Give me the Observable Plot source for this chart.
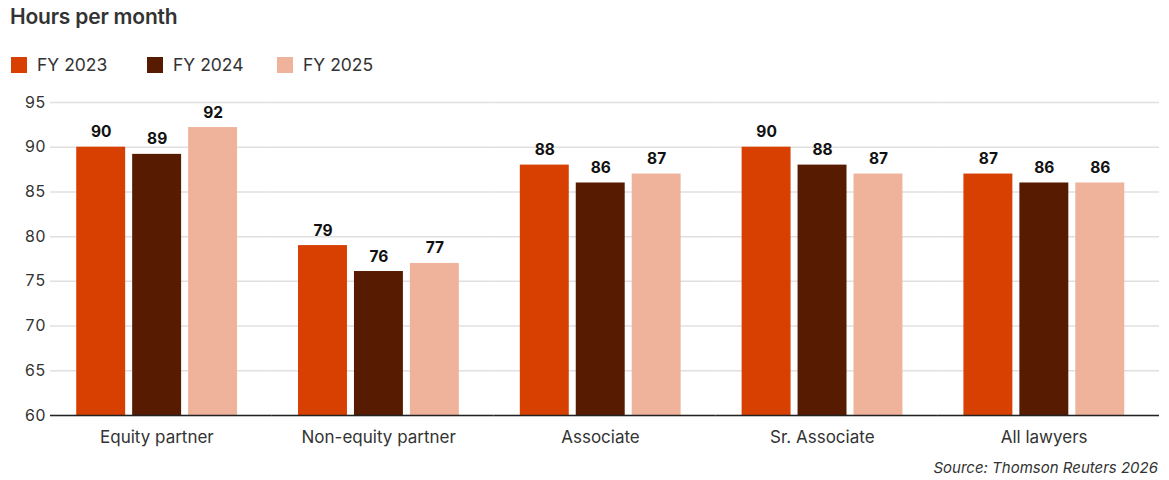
<!DOCTYPE html>
<html>
<head>
<meta charset="utf-8">
<script src="https://cdn.jsdelivr.net/npm/d3@7"></script>
<script src="https://cdn.jsdelivr.net/npm/@observablehq/plot@0.6"></script>
<style>
  body { margin: 0; background: #fff; font-family: Inter, "Noto Sans", sans-serif; color: #333; }
  #wrap { position: relative; width: 1169px; height: 480px; }
  #title { position: absolute; left: 10px; top: 4px; font-size: 21px; font-weight: 600; color: #333; letter-spacing: -0.2px; }
  #legend { position: absolute; left: 11px; top: 54px; display: flex; }
  .item { display: flex; align-items: center; font-size: 17.5px; color: #333; }
  .sw { width: 16px; height: 16px; margin-right: 10px; }
  #chart { position: absolute; left: 0; top: 88px; }
  #source { position: absolute; right: 11px; top: 458px; font-size: 15px; font-style: italic; color: #333; }
</style>
</head>
<body>
<div id="wrap">
  <div id="title">Hours per month</div>
  <div id="legend"></div>
  <div id="chart"></div>
  <div id="source">Source: Thomson Reuters 2026</div>
</div>
<script>
const categories = ["Equity partner", "Non-equity partner", "Associate", "Sr. Associate", "All lawyers"];
const years = ["FY 2023", "FY 2024", "FY 2025"];
const fy2023 = [90, 79, 88, 90, 87];
const fy2024 = [89.2, 76.1, 86, 88, 86];
const fy2025 = [92.2, 77, 87, 87, 86];
const colors = ["#d74000", "#561b00", "#efb39b"];
const yTicks = [60, 65, 70, 75, 80, 85, 90, 95];

const series = [fy2023, fy2024, fy2025];
const data = [];
categories.forEach((c, i) => {
  years.forEach((y, j) => data.push({category: c, year: y, value: series[j][i]}));
});

// legend
const legend = document.getElementById("legend");
const legendWidths = [136, 130, 120];
years.forEach((y, j) => {
  const it = document.createElement("div");
  it.className = "item";
  it.style.width = legendWidths[j] + "px";
  const sw = document.createElement("div");
  sw.className = "sw";
  sw.style.background = colors[j];
  const t = document.createElement("span");
  t.textContent = y;
  it.appendChild(sw); it.appendChild(t);
  legend.appendChild(it);
});

const chart = Plot.plot({
  width: 1169,
  height: 362,
  marginLeft: 50,
  marginRight: 10,
  marginTop: 14,
  marginBottom: 35,
  style: { fontFamily: "Inter, 'Noto Sans', sans-serif", fontSize: "16px", color: "#333", background: "#fff" },
  fx: { domain: categories, paddingInner: 0, paddingOuter: 0, round: false, label: null },
  x: { domain: years, paddingInner: 0.125, paddingOuter: 0.545, align: 0.43, round: false, axis: null },
  y: { domain: [60, 95], label: null },
  color: { domain: years, range: colors },
  marks: [
    Plot.ruleY(yTicks, { y: d => d, stroke: "#e0e0e0", strokeWidth: 1.5 }),
    Plot.barY(data, { fx: "category", x: "year", y1: 60, y2: "value", fill: "year" }),
    Plot.text(data, { fx: "category", x: "year", y: "value", text: d => String(Math.round(d.value)),
      dy: -10, lineAnchor: "bottom", fontSize: 15.5, fontWeight: 700, fill: "#111" }),
    Plot.ruleY([60], { stroke: "#222", strokeWidth: 1.5 }),
    Plot.axisY({ ticks: yTicks, tickSize: 0, tickPadding: 5, fontSize: 16, label: null, fill: "#333" }),
    Plot.axisFx({ anchor: "bottom", tickSize: 0, tickPadding: 15, dx: -4.5, fontSize: 17, label: null, fill: "#333" })
  ]
});
document.getElementById("chart").appendChild(chart);
</script>
</body>
</html>
